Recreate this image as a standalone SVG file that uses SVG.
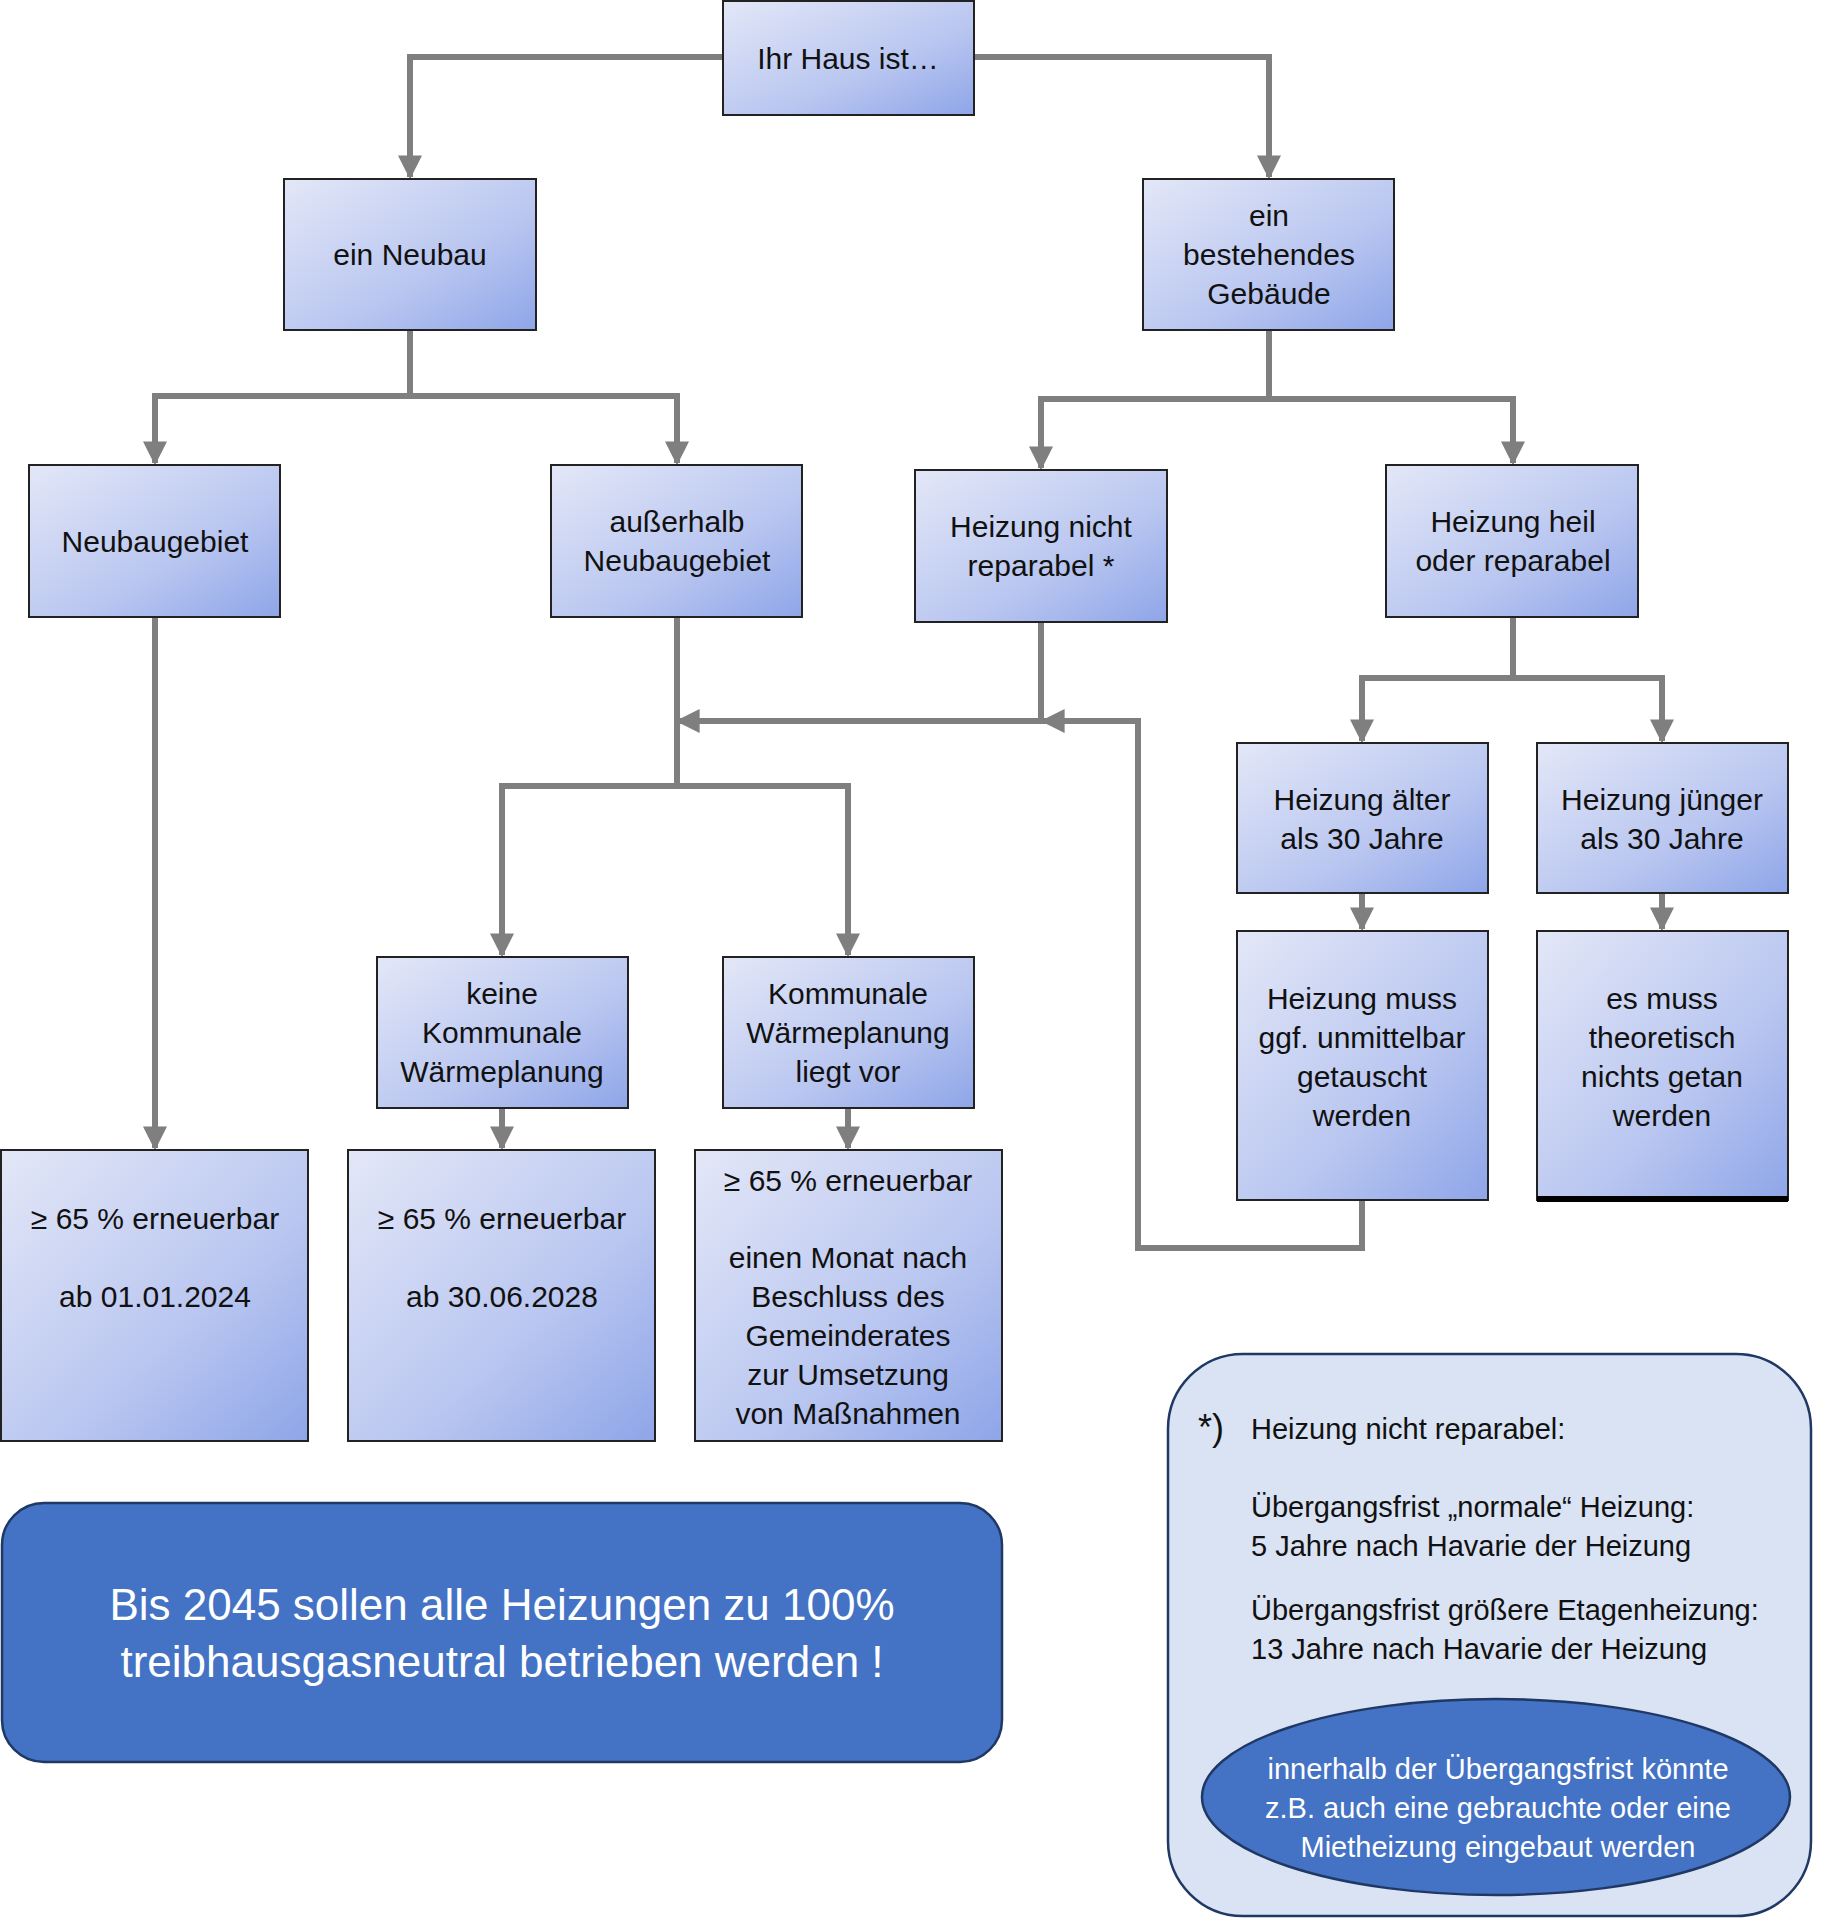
<svg xmlns="http://www.w3.org/2000/svg" width="1823" height="1920" viewBox="0 0 1823 1920">
<defs>
<linearGradient id="g" x1="0" y1="0" x2="1" y2="1"><stop offset="0" stop-color="#e3e7f7"/><stop offset="0.6" stop-color="#b9c6f0"/><stop offset="1" stop-color="#8ea5e8"/></linearGradient>
<marker id="a" viewBox="0 0 10 10" refX="9" refY="5" markerWidth="4" markerHeight="4" orient="auto" markerUnits="strokeWidth"><path d="M0,0 L10,5 L0,10 z" fill="#7f7f7f"/></marker>
</defs>
<style>
.n{fill:url(#g);stroke:#222;stroke-width:2}
.t{font-family:"Liberation Sans",Arial,sans-serif;font-size:30px;fill:#111;text-anchor:middle}
.c{fill:none;stroke:#7f7f7f;stroke-width:6}
.ca{fill:none;stroke:#7f7f7f;stroke-width:6;marker-end:url(#a)}
</style>
<rect width="1823" height="1920" fill="#fff"/>
<g id="connectors">
<path class="ca" d="M723,57 H410 V177"/>
<path class="ca" d="M974,57 H1269 V177"/>
<path class="c" d="M410,330 V396"/>
<path class="ca" d="M410,396 H155 V463"/>
<path class="ca" d="M410,396 H677 V463"/>
<path class="c" d="M1269,330 V399"/>
<path class="ca" d="M1269,399 H1041 V468"/>
<path class="ca" d="M1269,399 H1513 V463"/>
<path class="ca" d="M155,617 V1148"/>
<path class="c" d="M677,617 V786"/>
<path class="ca" d="M677,786 H502 V955"/>
<path class="ca" d="M677,786 H848 V955"/>
<path class="ca" d="M1041,622 V721 H678"/>
<path class="ca" d="M1362,1200 V1248 H1138 V721 H1043"/>
<path class="c" d="M1513,617 V678"/>
<path class="ca" d="M1513,678 H1362 V741"/>
<path class="ca" d="M1513,678 H1662 V741"/>
<path class="ca" d="M1362,893 V929"/>
<path class="ca" d="M1662,893 V929"/>
<path class="ca" d="M502,1108 V1148"/>
<path class="ca" d="M848,1108 V1148"/>
</g>
<g id="n1"><rect class="n" x="723" y="1" width="251" height="114"/><text class="t" x="848" y="69">Ihr Haus ist…</text></g>
<g id="n2"><rect class="n" x="284" y="179" width="252" height="151"/><text class="t" x="410" y="265">ein Neubau</text></g>
<g id="n3"><rect class="n" x="1143" y="179" width="251" height="151"/><text class="t" x="1269" y="226">ein</text><text class="t" x="1269" y="265">bestehendes</text><text class="t" x="1269" y="304">Gebäude</text></g>
<g id="n4"><rect class="n" x="29" y="465" width="251" height="152"/><text class="t" x="155" y="552">Neubaugebiet</text></g>
<g id="n5"><rect class="n" x="551" y="465" width="251" height="152"/><text class="t" x="677" y="532">außerhalb</text><text class="t" x="677" y="571">Neubaugebiet</text></g>
<g id="n6"><rect class="n" x="915" y="470" width="252" height="152"/><text class="t" x="1041" y="537">Heizung nicht</text><text class="t" x="1041" y="576">reparabel *</text></g>
<g id="n7"><rect class="n" x="1386" y="465" width="252" height="152"/><text class="t" x="1513" y="532">Heizung heil</text><text class="t" x="1513" y="571">oder reparabel</text></g>
<g id="n8"><rect class="n" x="1237" y="743" width="251" height="150"/><text class="t" x="1362" y="810">Heizung älter</text><text class="t" x="1362" y="849">als 30 Jahre</text></g>
<g id="n9"><rect class="n" x="1537" y="743" width="251" height="150"/><text class="t" x="1662" y="810">Heizung jünger</text><text class="t" x="1662" y="849">als 30 Jahre</text></g>
<g id="n10"><rect class="n" x="377" y="957" width="251" height="151"/><text class="t" x="502" y="1004">keine</text><text class="t" x="502" y="1043">Kommunale</text><text class="t" x="502" y="1082">Wärmeplanung</text></g>
<g id="n11"><rect class="n" x="723" y="957" width="251" height="151"/><text class="t" x="848" y="1004">Kommunale</text><text class="t" x="848" y="1043">Wärmeplanung</text><text class="t" x="848" y="1082">liegt vor</text></g>
<g id="n12"><rect class="n" x="1237" y="931" width="251" height="269"/><text class="t" x="1362" y="1009">Heizung muss</text><text class="t" x="1362" y="1048">ggf. unmittelbar</text><text class="t" x="1362" y="1087">getauscht</text><text class="t" x="1362" y="1126">werden</text></g>
<g id="n13"><rect class="n" x="1537" y="931" width="251" height="269"/><rect x="1537" y="1196" width="251" height="6" fill="#000"/><text class="t" x="1662" y="1009">es muss</text><text class="t" x="1662" y="1048">theoretisch</text><text class="t" x="1662" y="1087">nichts getan</text><text class="t" x="1662" y="1126">werden</text></g>
<g id="n14"><rect class="n" x="1" y="1150" width="307" height="291"/><text class="t" x="155" y="1229">≥ 65 % erneuerbar</text><text class="t" x="155" y="1307">ab 01.01.2024</text></g>
<g id="n15"><rect class="n" x="348" y="1150" width="307" height="291"/><text class="t" x="502" y="1229">≥ 65 % erneuerbar</text><text class="t" x="502" y="1307">ab 30.06.2028</text></g>
<g id="n16"><rect class="n" x="695" y="1150" width="307" height="291"/><text class="t" x="848" y="1191">≥ 65 % erneuerbar</text><text class="t" x="848" y="1268">einen Monat nach</text><text class="t" x="848" y="1307">Beschluss des</text><text class="t" x="848" y="1346">Gemeinderates</text><text class="t" x="848" y="1385">zur Umsetzung</text><text class="t" x="848" y="1424">von Maßnahmen</text></g>
<g id="banner"><rect x="2" y="1503" width="1000" height="259" rx="42" fill="#4472c4" stroke="#1f3864" stroke-width="2.5"/><text class="t" x="502" y="1620" style="font-size:44px;fill:#fff">Bis 2045 sollen alle Heizungen zu 100%</text><text class="t" x="502" y="1677" style="font-size:44px;fill:#fff">treibhausgasneutral betrieben werden !</text></g>
<g id="note"><rect x="1168" y="1354" width="643" height="562" rx="75" fill="#dae3f3" stroke="#1f3864" stroke-width="2.5"/>
<text x="1198" y="1440" style="font-family:'Liberation Sans',Arial,sans-serif;font-size:36px;fill:#111">*)</text>
<g style="font-family:'Liberation Sans',Arial,sans-serif;font-size:29px;fill:#111"><text x="1251" y="1439">Heizung nicht reparabel:</text><text x="1251" y="1517">Übergangsfrist „normale“ Heizung:</text><text x="1251" y="1556">5 Jahre nach Havarie der Heizung</text><text x="1251" y="1620">Übergangsfrist größere Etagenheizung:</text><text x="1251" y="1659">13 Jahre nach Havarie der Heizung</text></g>
<ellipse cx="1496" cy="1797" rx="294" ry="98" fill="#4472c4" stroke="#1f3864" stroke-width="2.5"/>
<g class="t" style="font-size:29px;fill:#fff"><text x="1498" y="1779" class="t" style="font-size:29px;fill:#fff">innerhalb der Übergangsfrist könnte</text><text x="1498" y="1818" class="t" style="font-size:29px;fill:#fff">z.B. auch eine gebrauchte oder eine</text><text x="1498" y="1857" class="t" style="font-size:29px;fill:#fff">Mietheizung eingebaut werden</text></g>
</g>
</svg>
